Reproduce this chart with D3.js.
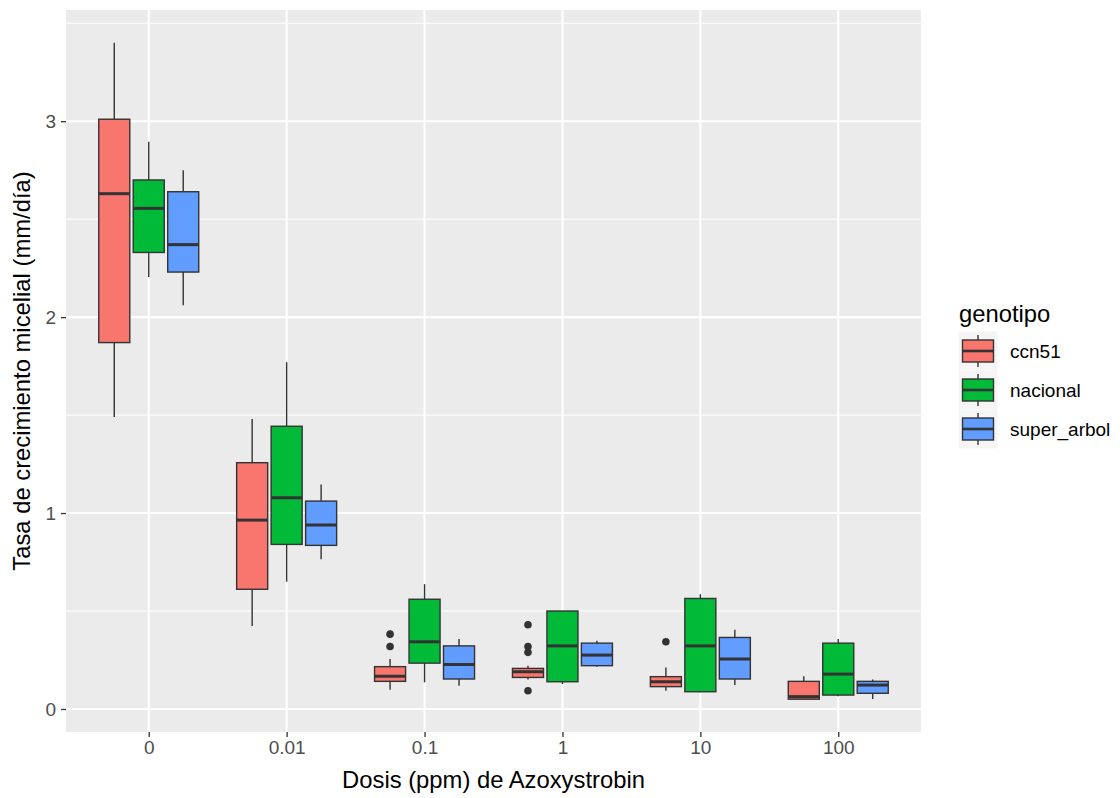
<!DOCTYPE html>
<html>
<head>
<meta charset="utf-8">
<script src="https://cdn.jsdelivr.net/npm/d3@7"></script>
<style>
  html, body { margin: 0; padding: 0; background: #ffffff; }
  svg { display: block; font-family: "Liberation Sans", Arial, sans-serif; }
</style>
</head>
<body>
<svg id="chart" width="1120" height="798"></svg>
<script>
// Dose levels (x categories) and genotypes (fill groups)
const doses = ["0", "0.01", "0.1", "1", "10", "100"];
const genotypes = ["ccn51", "nacional", "super_arbol"];
const fillColors = ["#F8766D", "#00BA38", "#619CFF"];

// Box statistics per dose: [lower whisker, Q1, median, Q3, upper whisker]
const ccn51Stats = [
  [1.49, 1.87, 2.63, 3.01, 3.40],
  [0.424, 0.611, 0.964, 1.257, 1.48],
  [0.098, 0.141, 0.167, 0.216, 0.255],
  [0.150, 0.161, 0.190, 0.207, 0.220],
  [0.093, 0.114, 0.139, 0.165, 0.212],
  [0.050, 0.050, 0.063, 0.141, 0.167]
];
const nacionalStats = [
  [2.205, 2.33, 2.555, 2.70, 2.895],
  [0.65, 0.84, 1.078, 1.443, 1.77],
  [0.136, 0.234, 0.343, 0.56, 0.637],
  [0.127, 0.139, 0.322, 0.50, 0.50],
  [0.085, 0.088, 0.322, 0.564, 0.586],
  [0.065, 0.071, 0.178, 0.336, 0.357]
];
const superArbolStats = [
  [2.06, 2.23, 2.37, 2.64, 2.75],
  [0.764, 0.835, 0.939, 1.061, 1.146],
  [0.119, 0.153, 0.227, 0.322, 0.357],
  [0.215, 0.221, 0.275, 0.336, 0.348],
  [0.122, 0.153, 0.255, 0.365, 0.404],
  [0.051, 0.080, 0.122, 0.141, 0.150]
];

// Outlying points per dose
const ccn51Outliers = [[], [], [0.382, 0.319], [0.43, 0.319, 0.289, 0.093], [0.343], []];
const nacionalOutliers = [[], [], [], [], [], []];
const superArbolOutliers = [[], [], [], [], [], []];

const yTicks = [0, 1, 2, 3];
const xTitle = "Dosis (ppm) de Azoxystrobin";
const yTitle = "Tasa de crecimiento micelial (mm/día)";
const legendTitle = "genotipo";

const statsByGroup = [ccn51Stats, nacionalStats, superArbolStats];
const outliersByGroup = [ccn51Outliers, nacionalOutliers, superArbolOutliers];

const panel = { left: 66, right: 921, top: 10, bottom: 732 };
const titleSize = "23.8px", tickSize = "19px";
const svg = d3.select("#chart");

// Continuous y range with 5% expansion, like the default ggplot scale
const allVals = [];
statsByGroup.forEach(g => g.forEach(r => allVals.push(...r)));
outliersByGroup.forEach(g => g.forEach(r => allVals.push(...r)));
const yMin = d3.min(allVals), yMax = d3.max(allVals);
const pad = (yMax - yMin) * 0.05;
const y = d3.scaleLinear().domain([yMin - pad, yMax + pad]).range([panel.bottom, panel.top]);

const x = d3.scalePoint().domain(doses).range([panel.left, panel.right]).padding(0.6);
const step = x.step();
const dodge = d3.scaleBand().domain(genotypes).range([-0.375 * step, 0.375 * step]);
const boxW = dodge.bandwidth() * 0.9;

// Panel background and grid
svg.append("rect")
  .attr("x", panel.left).attr("y", panel.top)
  .attr("width", panel.right - panel.left).attr("height", panel.bottom - panel.top)
  .attr("fill", "#EBEBEB");

const minorY = d3.range(0.5, yMax + pad, 1).filter(v => v > yMin - pad);
svg.append("g").selectAll("line").data(minorY).join("line")
  .attr("x1", panel.left).attr("x2", panel.right)
  .attr("y1", d => y(d)).attr("y2", d => y(d))
  .attr("stroke", "#ffffff").attr("stroke-width", 1);

svg.append("g").selectAll("line").data(yTicks).join("line")
  .attr("x1", panel.left).attr("x2", panel.right)
  .attr("y1", d => y(d)).attr("y2", d => y(d))
  .attr("stroke", "#ffffff").attr("stroke-width", 2.1);

svg.append("g").selectAll("line").data(doses).join("line")
  .attr("x1", d => x(d)).attr("x2", d => x(d))
  .attr("y1", panel.top).attr("y2", panel.bottom)
  .attr("stroke", "#ffffff").attr("stroke-width", 2.1);

// Axes
const yAxis = svg.append("g")
  .attr("transform", `translate(${panel.left},0)`)
  .call(d3.axisLeft(y).tickValues(yTicks).tickFormat(d3.format("d")).tickSize(5).tickPadding(5));
const xAxis = svg.append("g")
  .attr("transform", `translate(0,${panel.bottom})`)
  .call(d3.axisBottom(x).tickSize(5).tickPadding(4));
[yAxis, xAxis].forEach(a => {
  a.select(".domain").remove();
  a.selectAll(".tick line").attr("stroke", "#333333").attr("stroke-width", 1.3);
  a.selectAll(".tick text").attr("fill", "#4D4D4D").style("font-size", tickSize)
    .style("font-family", "'Liberation Sans', Arial, sans-serif");
});

// Boxplots
const boxes = svg.append("g");
genotypes.forEach((gname, gi) => {
  doses.forEach((dose, di) => {
    const [lo, q1, med, q3, hi] = statsByGroup[gi][di];
    const cx = x(dose) + dodge(gname) + dodge.bandwidth() / 2;
    const g = boxes.append("g");
    g.append("line").attr("x1", cx).attr("x2", cx).attr("y1", y(hi)).attr("y2", y(q3))
      .attr("stroke", "#333333").attr("stroke-width", 1.4);
    g.append("line").attr("x1", cx).attr("x2", cx).attr("y1", y(q1)).attr("y2", y(lo))
      .attr("stroke", "#333333").attr("stroke-width", 1.4);
    g.append("rect")
      .attr("x", cx - boxW / 2).attr("width", boxW)
      .attr("y", y(q3)).attr("height", Math.max(0.5, y(q1) - y(q3)))
      .attr("fill", fillColors[gi]).attr("stroke", "#333333").attr("stroke-width", 1.4);
    g.append("line").attr("x1", cx - boxW / 2).attr("x2", cx + boxW / 2)
      .attr("y1", y(med)).attr("y2", y(med))
      .attr("stroke", "#333333").attr("stroke-width", 3);
    g.selectAll("circle").data(outliersByGroup[gi][di]).join("circle")
      .attr("cx", cx).attr("cy", d => y(d)).attr("r", 3.8)
      .attr("fill", "#333333");
  });
});

// Axis titles
svg.append("text")
  .attr("x", (panel.left + panel.right) / 2).attr("y", 788)
  .attr("text-anchor", "middle").style("font-size", titleSize).attr("fill", "#000000")
  .text(xTitle);
svg.append("text")
  .attr("transform", `translate(30,${(panel.top + panel.bottom) / 2}) rotate(-90)`)
  .attr("text-anchor", "middle").style("font-size", titleSize).attr("fill", "#000000")
  .text(yTitle);

// Legend
const legend = svg.append("g");
legend.append("text").attr("x", 959).attr("y", 322)
  .style("font-size", titleSize).attr("fill", "#000000").text(legendTitle);
const keyCx = 978, rowY = d3.scalePoint().domain(genotypes).range([351, 429]);
genotypes.forEach((gname, gi) => {
  const cy = rowY(gname);
  const k = legend.append("g");
  k.append("rect").attr("x", keyCx - 19.5).attr("y", cy - 19.5).attr("width", 39).attr("height", 39)
    .attr("fill", "#F5F5F5");
  k.append("line").attr("x1", keyCx).attr("x2", keyCx).attr("y1", cy - 16).attr("y2", cy + 16)
    .attr("stroke", "#333333").attr("stroke-width", 1.4);
  k.append("rect").attr("x", keyCx - 15.5).attr("y", cy - 11).attr("width", 31).attr("height", 22)
    .attr("fill", fillColors[gi]).attr("stroke", "#333333").attr("stroke-width", 1.4);
  k.append("line").attr("x1", keyCx - 15.5).attr("x2", keyCx + 15.5).attr("y1", cy).attr("y2", cy)
    .attr("stroke", "#333333").attr("stroke-width", 2.6);
  k.append("text").attr("x", 1010).attr("y", cy).attr("dy", "0.35em")
    .style("font-size", tickSize).attr("fill", "#000000").text(gname);
});
</script>
</body>
</html>
